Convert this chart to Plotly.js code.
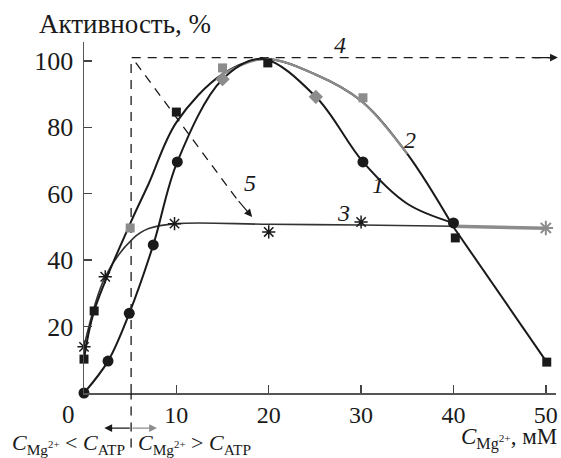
<!DOCTYPE html>
<html><head><meta charset="utf-8">
<script src="https://cdn.plot.ly/plotly-3.0.1.min.js"></script>
<style>body{margin:0;background:#fff}</style>
</head><body><div id="chart" style="width:561px;height:458px"></div>
<script>
// ---- Curve 1 (black circles) ----
const c1CircleX = [0, 2.6, 4.9, 7.5, 10.1, 30.2, 40];
const c1CircleY = [0, 9.6, 24, 44.6, 69.6, 69.6, 51.2];
const c1DiamondX = [15, 25.1];
const c1DiamondY = [94.5, 89.2];
const c1LineX = [0, 2.6, 4.9, 7.5, 10.1, 15, 19.3, 25.1, 30.2, 35, 40];
const c1LineY = [0, 9.6, 24, 44.6, 69.6, 94.5, 100.6, 89.2, 69.6, 57, 51.2];
// ---- Curve 2 (squares) ----
const c2BlackSqX = [0, 1.1, 10, 19.9, 40.2, 50.1];
const c2BlackSqY = [10.2, 24.7, 84.6, 99.4, 46.7, 9.3];
const c2GraySqX = [5, 15, 30.2];
const c2GraySqY = [49.7, 97.9, 88.9];
const c2LineX = [0, 1.1, 5, 7, 10, 15, 19.5, 25, 30, 35, 40];
const c2LineY = [10.2, 24.7, 51, 63, 81.5, 96, 100.6, 96, 88, 72, 50];
const c2GrayLineX = [15, 19.5, 25, 30, 35];
const c2GrayLineY = [96, 100.6, 96, 88, 72];
const c2TailX = [40, 50.1];
const c2TailY = [50, 9.3];
// ---- Curve 3 (stars) ----
const c3StarX = [0, 2.3, 9.8, 20, 30];
const c3StarY = [13.9, 35, 51, 48.5, 51.5];
const c3GrayStarX = [50];
const c3GrayStarY = [49.7];
const c3LineX = [0, 2.3, 5.3, 7, 10, 20, 30, 40];
const c3LineY = [14, 35, 46.5, 49.5, 51, 50.8, 50.6, 50.2];
const c3TailX = [40, 50];
const c3TailY = [50.2, 49.6];
// ---- Guide lines 4 and 5 ----
const g4X = [5.1, 5.1, 50.6];
const g4Y = [0, 101, 101];
const g5X = [5.6, 16.6];
const g5Y = [99.5, 58.2];
// ---- ticks ----
const xTicks = [10, 20, 30, 40, 50];
const yTicks = [20, 40, 60, 80, 100];

const serif = 'Liberation Serif';
const black = '#1a1a1a', gray = '#8c8c8c';

const traces = [
  {x: g4X, y: g4Y, mode: 'lines', line: {color: black, width: 1.3, dash: '9px,7px'}},
  {x: g5X, y: g5Y, mode: 'lines', line: {color: black, width: 1.3, dash: '9px,7px'}},
  {x: c3LineX, y: c3LineY, mode: 'lines', line: {color: '#333', width: 1.6, shape: 'spline'}},
  {x: c3TailX, y: c3TailY, mode: 'lines', line: {color: gray, width: 3.5}},
  {x: c2LineX, y: c2LineY, mode: 'lines', line: {color: black, width: 2, shape: 'spline'}},
  {x: c2GrayLineX, y: c2GrayLineY, mode: 'lines', line: {color: gray, width: 2.2, shape: 'spline'}},
  {x: c2TailX, y: c2TailY, mode: 'lines', line: {color: black, width: 2}},
  {x: c1LineX, y: c1LineY, mode: 'lines', line: {color: black, width: 2, shape: 'spline'}},
  {x: c1CircleX, y: c1CircleY, mode: 'markers', cliponaxis: false, marker: {symbol: 'circle', size: 11, color: black}},
  {x: c1DiamondX, y: c1DiamondY, mode: 'markers', cliponaxis: false, marker: {symbol: 'diamond', size: 11, color: gray}},
  {x: c2BlackSqX, y: c2BlackSqY, mode: 'markers', cliponaxis: false, marker: {symbol: 'square', size: 9, color: black}},
  {x: c2GraySqX, y: c2GraySqY, mode: 'markers', cliponaxis: false, marker: {symbol: 'square', size: 9, color: gray}},
  {x: c3StarX, y: c3StarY, mode: 'markers', cliponaxis: false, marker: {symbol: 'asterisk-open', size: 11, color: black, line: {color: black, width: 1.5}}},
  {x: c3GrayStarX, y: c3GrayStarY, mode: 'markers', cliponaxis: false, marker: {symbol: 'asterisk-open', size: 12, color: gray, line: {color: gray, width: 2}}}
];

const cMg = '<i>C</i><sub>Mg<sup>2+</sup></sub>';
const cAtp = '<i>C</i><sub>ATP</sub>';
const italic = (t, x, y) => ({text: '<i>' + t + '</i>', x: x, y: y, xref: 'x', yref: 'y', showarrow: false, font: {family: serif, size: 24, color: black}});

const annotations = [
  {text: 'Активность, %', xref: 'paper', yref: 'paper', x: -0.1, y: 1.05, xanchor: 'left', yanchor: 'middle', showarrow: false, font: {family: serif, size: 27, color: black}},
  {text: '0', xref: 'paper', yref: 'paper', x: -0.033, y: -0.06, xanchor: 'center', yanchor: 'middle', showarrow: false, font: {family: serif, size: 25, color: black}},
  {text: cMg + ', мМ', xref: 'paper', yref: 'paper', x: 1.006, y: -0.178, xanchor: 'right', yanchor: 'bottom', showarrow: false, font: {family: serif, size: 23, color: black}},
  {text: cMg + ' &lt; ' + cAtp, xref: 'paper', yref: 'paper', x: -0.033, y: -0.145, xanchor: 'center', yanchor: 'middle', showarrow: false, font: {family: serif, size: 22, color: black}},
  {text: cMg + ' &gt; ' + cAtp, xref: 'paper', yref: 'paper', x: 0.235, y: -0.145, xanchor: 'center', yanchor: 'middle', showarrow: false, font: {family: serif, size: 22, color: black}},
  italic('1', 31.8, 62.7), italic('2', 35.3, 76.2), italic('3', 28.1, 54.2), italic('4', 27.7, 104.8), italic('5', 18, 63.3),
  {text: '', x: 51.3, y: 101, xref: 'x', yref: 'y', ax: 48.5, ay: 101, axref: 'x', ayref: 'y', showarrow: true, arrowhead: 2, arrowsize: 1.3, arrowwidth: 1.2, arrowcolor: black},
  {text: '', x: 18.2, y: 53, xref: 'x', yref: 'y', ax: 16.6, ay: 58.2, axref: 'x', ayref: 'y', showarrow: true, arrowhead: 2, arrowsize: 1.3, arrowwidth: 1.2, arrowcolor: black},
  {text: '', x: 2.2, y: -0.1, xref: 'x', yref: 'paper', ax: 27, ay: 0, showarrow: true, arrowhead: 2, arrowsize: 1.2, arrowwidth: 1.3, arrowcolor: black},
  {text: '', x: 7.9, y: -0.1, xref: 'x', yref: 'paper', ax: -26, ay: 0, showarrow: true, arrowhead: 2, arrowsize: 1.2, arrowwidth: 1.3, arrowcolor: gray}
];

const layout = {
  width: 561, height: 458,
  margin: {l: 83.5, r: 5, t: 42, b: 65},
  paper_bgcolor: '#fff', plot_bgcolor: '#fff',
  showlegend: false,
  font: {family: serif, color: black},
  xaxis: {range: [0, 51.1], tickvals: xTicks, ticktext: xTicks.map(String), ticks: 'inside', ticklen: 8, tickwidth: 1.4, tickcolor: '#444',
          showline: true, linecolor: '#555', linewidth: 1.5, showgrid: false, zeroline: false,
          tickfont: {family: serif, size: 24, color: black}},
  yaxis: {range: [0, 105.7], tickvals: yTicks, ticktext: yTicks.map(String), ticks: 'inside', ticklen: 8, tickwidth: 1.4, tickcolor: '#444',
          showline: true, linecolor: '#555', linewidth: 1.5, showgrid: false, zeroline: false, ticklabelstandoff: 4,
          tickfont: {family: serif, size: 26, color: black}},
  shapes: [
    {type: 'line', xref: 'x', yref: 'paper', x0: g4X[0], x1: g4X[0], y0: -0.155, y1: 0, line: {color: black, width: 1.3, dash: '9px,7px'}}
  ],
  annotations: annotations
};

Plotly.newPlot('chart', traces, layout, {displayModeBar: false, staticPlot: true});
</script>
</body></html>
